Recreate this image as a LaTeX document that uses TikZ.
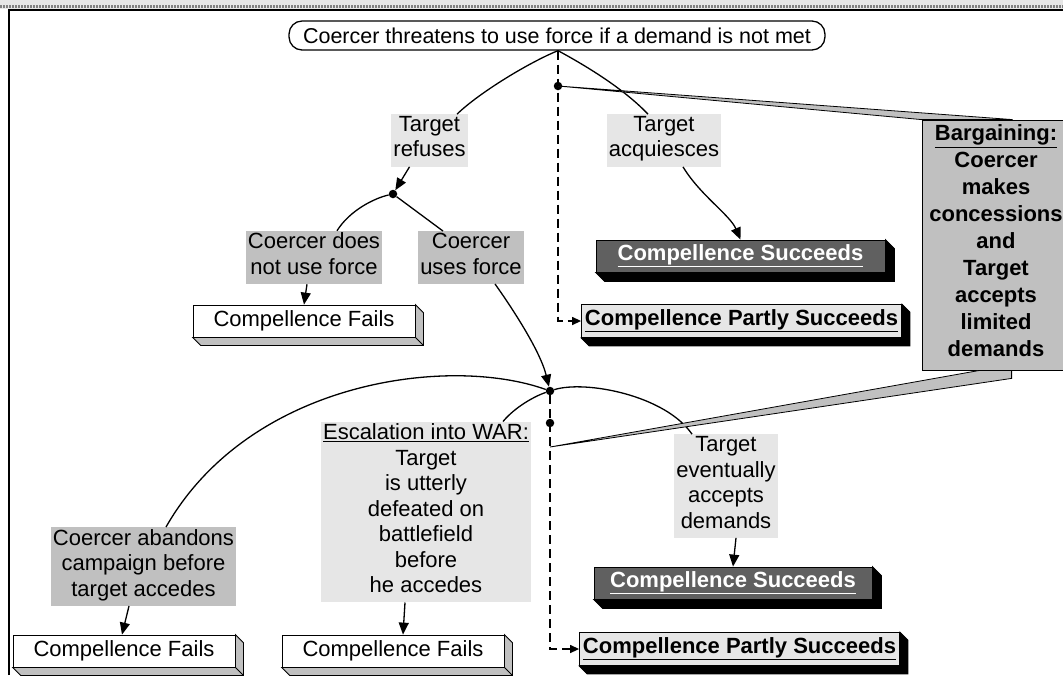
\documentclass[tikz,border=0pt]{standalone}
\usepackage{fontspec}
\setmainfont{Liberation Sans}
\usepackage{xcolor}
\usetikzlibrary{arrows.meta}
\definecolor{palegray}{HTML}{E6E6E6}
\definecolor{midgray}{HTML}{C0C0C0}
\definecolor{slabdark}{HTML}{606060}
\newcommand{\slab}[3]{\draw[fill=#3, line width=0.8pt] (#1.north east) -- ++(#2,#2) -- ([shift={(#2,#2)}]#1.south east) -- ([shift={(#2,#2)}]#1.south west) -- (#1.south west) -- (#1.south east) -- cycle (#1.south east) -- ++(#2,#2);}

\begin{document}
\begin{tikzpicture}[x=1pt, y=-1pt, >={Triangle[length=12pt,width=10pt]}]
              \tikzstyle{txt} = [font=\fontsize{22}{25.5}\selectfont]
              \tikzstyle{lbl} = [txt, align=center, inner sep=2pt, execute at begin node=\strut, execute at end node=\strut]
              \tikzstyle{light} = [lbl, fill=palegray]
              \tikzstyle{mid} = [lbl, fill=midgray]
              \tikzstyle{outcome} = [draw, line width=0.8pt, minimum height=32pt, inner sep=0pt]
              \tikzstyle{fails} = [outcome, txt, fill=white, minimum width=222pt]
              \tikzstyle{wins} = [outcome, fill=slabdark, text=white, font=\fontsize{22}{25.5}\selectfont\bfseries]
              \tikzstyle{part} = [outcome, fill=palegray, minimum width=320pt, minimum height=33pt, font=\fontsize{22}{25.5}\selectfont\bfseries]
              \tikzstyle{dot} = [circle, fill, inner sep=0pt, minimum size=8.5pt]
              \tikzstyle{link} = [line width=1.3pt]
              \tikzstyle{maybe} = [link, dash pattern=on 9pt off 5pt, -{Triangle[length=9pt,width=8pt]}]
              \useasboundingbox (0,0) rectangle (1063,675);
              \clip (0,0) rectangle (1063,675);
              \fill[palegray] (0,0) rectangle (1063,9);
              \draw[gray, line width=3pt, dash pattern=on 1.5pt off 1.5pt] (0,6) -- (1063,6);
              \draw[line width=2pt] (9,675) -- (9,10) -- (1063,10);
              \node (top) [font=\fontsize{21.5}{25.5}\selectfont, draw, line width=1.3pt, rounded corners=13pt, minimum height=29pt, inner xsep=14pt, inner ysep=0pt] at (557,35.5) {Coercer threatens to use force if a demand is not met};
              \coordinate (root) at ([xshift=1pt]top.south);
              \node (ref) [light] at (429.5,140.5) {Target\\refuses};
              \node (acq) [light] at (664,140.5) {Target\\acquiesces};
              \node (j1) [dot] at (393,194) {};
              \node (dno) [mid] at (314,257.5) {Coercer does\\not use force};
              \node (use) [mid] at (471,257.5) {Coercer\\uses force};
              \node (f1) [fails] at (304,321) {Compellence Fails};
              \node (s1) [wins, minimum width=289pt] at (740.5,256) {\underline{Compellence Succeeds}};
              \node (p1) [part] at (741.5,321) {\underline{Compellence Partly Succeeds}};
              \node (da) [dot] at (558,86) {};
              \node (j2) [dot] at (550,391) {};
              \node (db) [dot] at (550,423) {};
              \coordinate (tip) at (550,447);
              \node (aba) [mid] at (143.5,566.5) {Coercer abandons\\campaign before\\target accedes};
              \node (war) [light] at (426,512) {\underline{Escalation into WAR:}\\Target\\is utterly\\defeated on\\battlefield\\before\\he accedes};
              \node (ev) [light] at (726,486) {Target\\eventually\\accepts\\demands};
              \node (f2) [fails] at (124,651) {Compellence Fails};
              \node (f3) [fails] at (393,651) {Compellence Fails};
              \node (s2) [wins, minimum width=278pt] at (733,583) {\underline{Compellence Succeeds}};
              \node (p2) [part] at (739.5,649) {\underline{Compellence Partly Succeeds}};
              \node (bar) [mid, draw, line width=0.8pt, font=\fontsize{22}{27}\selectfont\bfseries, minimum width=148pt, minimum height=250pt] at (996,245) {\underline{Bargaining:}\\Coercer\\makes\\concessions\\and\\Target\\accepts\\limited\\demands};
              \slab{f1}{8}{midgray}
              \slab{f2}{8}{midgray}
              \slab{f3}{8}{midgray}
              \slab{s1}{9}{black}
              \slab{s2}{9}{black}
              \slab{p1}{8}{black}
              \slab{p2}{8}{black}
              \draw[link] (root) .. controls (530,62) and (480,92) .. ([xshift=27.5pt]ref.north);
              \draw[link] (root) .. controls (590,68) and (625,90) .. ([xshift=-16pt]acq.north);
              \draw[link,->] ([xshift=-20pt]ref.south) -- (j1);
              \draw[link] (j1) .. controls (375,198) and (350,210) .. ([xshift=23pt]dno.north);
              \draw[link] (j1) -- ([xshift=-28pt]use.north);
              \draw[link,->] ([xshift=-7pt]dno.south) -- (f1.north);
              \draw[link,->] ([xshift=24pt]use.south) .. controls (510,305) and (540,350) .. (j2);
              \draw[link,->] ([xshift=19pt]acq.south) .. controls (700,195) and (730,215) .. (s1.north);
              \draw[link] (j2) .. controls (450,355) and (250,380) .. ([xshift=22.5pt]aba.north);
              \draw[link] (j2) .. controls (535,396) and (515,407) .. ([xshift=77pt]war.north);
              \draw[link] (j2) .. controls (585,380) and (665,395) .. ([xshift=-34pt]ev.north);
              \draw[link,->] ([xshift=10pt]ev.south) -- (s2.north);
              \draw[link,->] ([xshift=-14.5pt]aba.south) -- ([xshift=-2pt]f2.north);
              \draw[link,->] ([xshift=-21pt]war.south) -- ([xshift=10pt]f3.north);
              \draw[maybe] (root) |- (p1.west);
              \draw[maybe] (j2) |- (p2.west);
              \draw[fill=midgray, line width=0.8pt] (da.center) -- ([xshift=91pt]bar.north west) -- (bar.north west) -- cycle;
              \draw[fill=midgray, line width=0.8pt] (tip) -- ([xshift=58pt]bar.south west) -- ([xshift=90pt]bar.south west) -- ([shift={(90,8)}]bar.south west) -- cycle;
            \end{tikzpicture}
\end{document}
